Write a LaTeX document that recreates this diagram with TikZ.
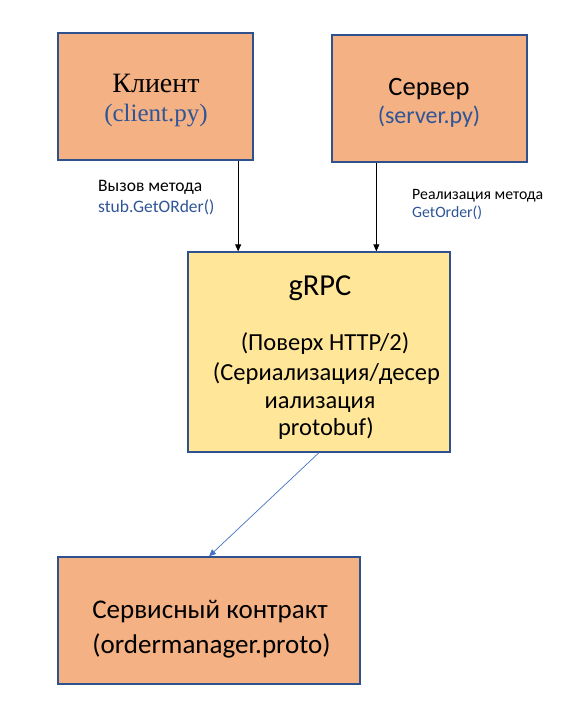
\documentclass[tikz,border=0pt]{standalone}
\usepackage{fontspec}
\setmainfont{Carlito}
\newfontfamily\timesfont{Liberation Serif}
\usetikzlibrary{arrows.meta}
\definecolor{boxorange}{HTML}{F4B183}
\definecolor{boxyellow}{HTML}{FFE699}
\definecolor{boxline}{HTML}{2F528F}
\definecolor{codeblue}{HTML}{2F5597}
\definecolor{linkblue}{HTML}{4472C4}
\tikzset{
    box/.style={draw=boxline,line width=1.3pt,inner sep=0pt},
    txt/.style={anchor=base,inner sep=0pt},
    note/.style={anchor=base west,inner sep=0pt}
}
\begin{document}
\begin{tikzpicture}[x=1pt,y=1pt,>={Triangle[length=7pt,width=6pt]}]
                \useasboundingbox[fill=white] (0,0) rectangle (565,-713);
                % boxes
                \node[box,fill=boxorange,minimum width=195pt,minimum height=127pt] (client) at (155.5,-96.5) {};
                \node[box,fill=boxorange,minimum width=195pt,minimum height=127pt] (server) at (429.5,-98.5) {};
                \node[box,fill=boxyellow,minimum width=262pt,minimum height=200pt] (grpc) at (319,-352) {};
                \node[box,fill=boxorange,minimum width=302pt,minimum height=127pt] (contract) at (209,-620.5) {};
                % texts in the boxes
                \node[txt,font=\timesfont\fontsize{28}{30}\selectfont] (clientname) at (156,-92) {Клиент};
                \node[txt,font=\timesfont\fontsize{25}{27}\selectfont,text=codeblue] (clientfile) at (156,-121) {(client.py)};
                \node[txt,font=\fontsize{26.5}{28}\selectfont] (servername) at (429,-95) {Сервер};
                \node[txt,font=\fontsize{24}{26}\selectfont,text=codeblue] (serverfile) at (429,-123) {(server.py)};
                \node[txt,font=\fontsize{30.5}{32}\selectfont] (grpcname) at (320,-295) {gRPC};
                \node[txt,font=\fontsize{24.5}{26}\selectfont] (grpcline1) at (325,-350) {(Поверх HTTP/2)};
                \node[txt,font=\fontsize{24.5}{26}\selectfont] (grpcline2) at (326.5,-380) {(Сериализация/десер};
                \node[txt,font=\fontsize{24.5}{26}\selectfont] (grpcline3) at (320,-408) {иализация};
                \node[txt,font=\fontsize{24.5}{26}\selectfont] (grpcline4) at (326,-435) {protobuf)};
                \node[txt,font=\fontsize{27}{29}\selectfont] (contractname) at (210,-618) {Сервисный контракт};
                \node[txt,font=\fontsize{27}{29}\selectfont] (contractfile) at (211.5,-653) {(ordermanager.proto)};
                % labels on the arrows
                \node[note,font=\fontsize{17.5}{19}\selectfont] (calllabel) at (98,-191) {Вызов метода};
                \node[note,font=\fontsize{17.5}{19}\selectfont,text=codeblue] (callcode) at (98,-212) {stub.GetORder()};
                \node[note,font=\fontsize{15.8}{17}\selectfont] (impllabel) at (412,-199) {Реализация метода};
                \node[note,font=\fontsize{15.8}{17}\selectfont,text=codeblue] (implcode) at (412,-217) {GetOrder()};
                % arrows
                \draw[->,line width=0.8pt] ([xshift=-15.5pt]client.south east) -- ([xshift=-15.5pt]client.south east |- grpc.north);
                \draw[->,line width=0.8pt] ([xshift=45pt]server.south west) -- ([xshift=45pt]server.south west |- grpc.north);
                \draw[->,linkblue,line width=0.7pt] (grpc.south) -- (contract.north);
            \end{tikzpicture}
\end{document}
